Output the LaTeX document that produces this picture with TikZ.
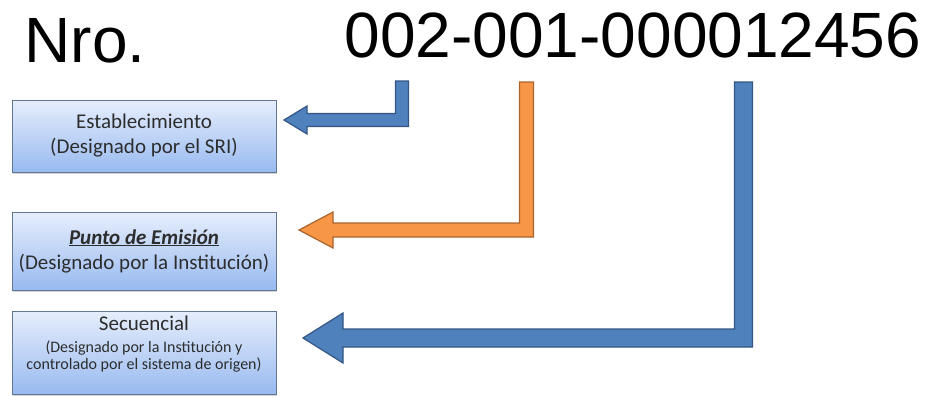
\documentclass[tikz,border=0pt]{standalone}
\usepackage{fontspec}
\setmainfont{Liberation Sans}
\newfontfamily\boxfont{Carlito}
\usepackage{tikz}
\usetikzlibrary{calc, positioning, shadows}

\definecolor{arrowBlue}{RGB}{79,129,189}
\definecolor{arrowBlueEdge}{RGB}{52,86,130}
\definecolor{arrowOrange}{RGB}{247,150,70}
\definecolor{arrowOrangeEdge}{RGB}{170,100,45}
\definecolor{boxTop}{RGB}{230,238,252}
\definecolor{boxBottom}{RGB}{152,186,240}
\definecolor{boxEdge}{RGB}{100,118,150}
\definecolor{boxText}{RGB}{45,45,45}

\begin{document}
\begin{tikzpicture}[x=1pt, y=-1pt,
		infobox/.style={draw=boxEdge, line width=1pt, top color=boxTop, bottom color=boxBottom,
			minimum width=264pt, inner sep=0pt, align=center, text=boxText,
			font=\boxfont\fontsize{21}{25}\selectfont,
			drop shadow={shadow xshift=1pt, shadow yshift=-2pt, opacity=0.35}},
		boxtext/.style={inner sep=0pt, align=center, text=boxText, font=\boxfont\fontsize{21}{25}\selectfont},
		bigtext/.style={inner sep=0pt, font=\fontsize{64}{70}\selectfont}]
	\useasboundingbox (0,0) rectangle (933,396);

	\newcommand{\drawBlockArrow}[7]
	{
		\filldraw [fill=#1, draw=#2, line width=1.2pt, line join=miter]
			let \p1 = (#3), \p2 = (#4) in
			(\x1-#5, \y1) -- (\x1+#5, \y1) -- (\x1+#5, \y2-#5) -- (\x2+#7, \y2-#5)
			-- (\x2+#7, \y2-#6) -- (\x2, \y2) -- (\x2+#7, \y2+#6) -- (\x2+#7, \y2+#5)
			-- (\x1-#5, \y2+#5) -- cycle
	}

	\node [bigtext, anchor=base] (nro) at (85,63) {Nro.};
	\node [bigtext, anchor=base] (numero) at (633,58) {002-001-000012456};

	\node [infobox, minimum height=72pt] (establecimiento) at (144,136)
		{Establecimiento\\(Designado por el SRI)};
	\node [infobox, minimum height=78pt] (emision) at (144,251)
		{\underline{\textbf{\textit{Punto de Emisión}}}\\(Designado por la Institución)};
	\node [infobox, minimum height=83pt] (secuencial) at (144,352.5) {};
	\node [boxtext, below=5pt of secuencial.north] (secuencialText)
		{Secuencial\\[-3pt]
		\fontsize{16}{15}\selectfont(Designado por la Institución y\\[-8pt]
		\fontsize{16}{15}\selectfont controlado por el sistema de origen)};

	\coordinate (stemEst) at (402,81);
	\coordinate (stemPto) at (526.5,82);
	\coordinate (stemSec) at (743.5,82);
	\coordinate (tipEst) at (284,120);
	\coordinate (tipPto) at (299,230);
	\coordinate (tipSec) at (303,338);

	\drawBlockArrow{arrowBlue}{arrowBlueEdge}{stemEst}{tipEst}{6.5}{14}{23};
	\drawBlockArrow{arrowOrange}{arrowOrangeEdge}{stemPto}{tipPto}{7}{18}{34};
	\drawBlockArrow{arrowBlue}{arrowBlueEdge}{stemSec}{tipSec}{9}{25}{40};
\end{tikzpicture}
\end{document}
